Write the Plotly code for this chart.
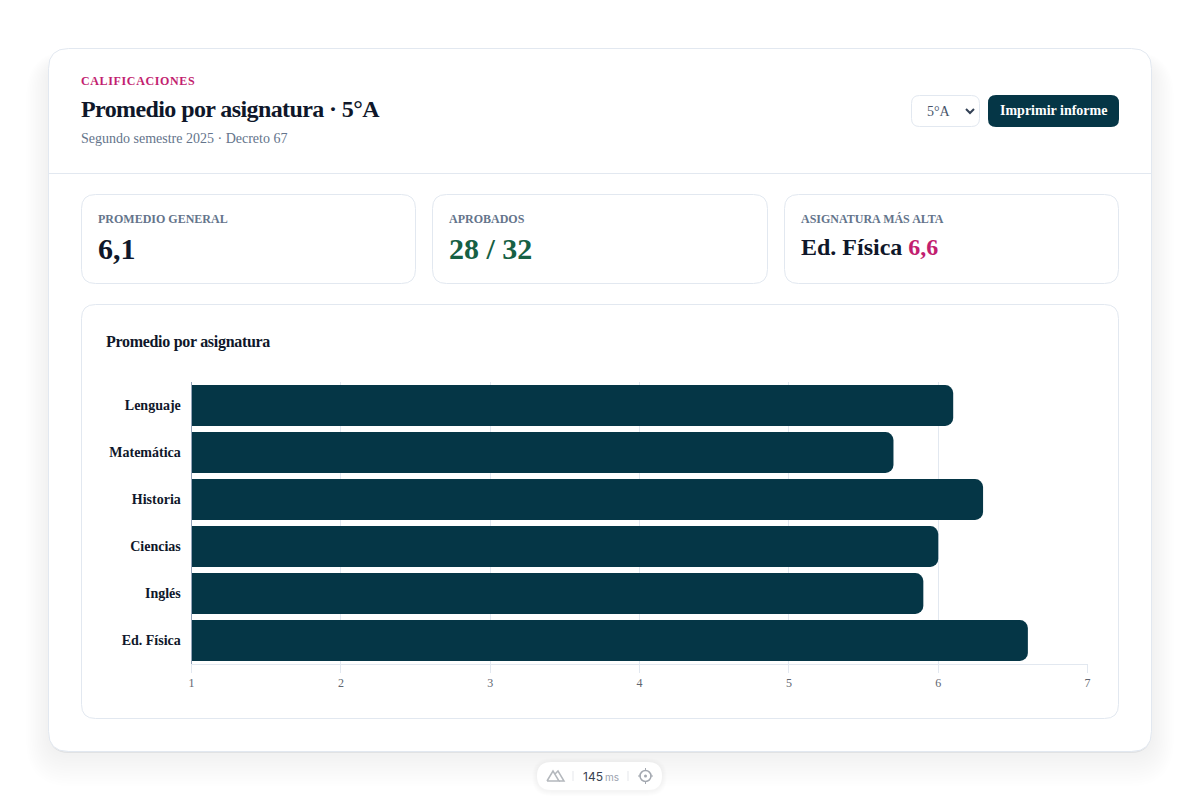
#!/usr/bin/env python3
"""Promedio por asignatura, 5°A: report card with KPI tiles and a bar chart."""
import plotly.graph_objects as go

asignaturas = ["Lenguaje", "Matemática", "Historia", "Ciencias", "Inglés", "Ed. Física"]
promedios = [6.1, 5.7, 6.3, 6.0, 5.9, 6.6]
x_ticks = [1, 2, 3, 4, 5, 6, 7]

W, H = 1200, 800
SERIF = "Liberation Serif"
INK = "#0f172a"
MUTED = "#64748b"
LINE = "#e2e8f0"
TEAL = "#053646"
PINK = "#c21e6f"
GREEN = "#166044"


def px(x):
    return x / W


def py(y):
    return 1 - y / H


def rounded(x0, y0, x1, y1, r):
    """SVG path for a rounded box, given in page pixels."""
    pts = [
        f"M{px(x0 + r)},{py(y0)}", f"L{px(x1 - r)},{py(y0)}", f"Q{px(x1)},{py(y0)} {px(x1)},{py(y0 + r)}",
        f"L{px(x1)},{py(y1 - r)}", f"Q{px(x1)},{py(y1)} {px(x1 - r)},{py(y1)}",
        f"L{px(x0 + r)},{py(y1)}", f"Q{px(x0)},{py(y1)} {px(x0)},{py(y1 - r)}",
        f"L{px(x0)},{py(y0 + r)}", f"Q{px(x0)},{py(y0)} {px(x0 + r)},{py(y0)}", "Z",
    ]
    return " ".join(pts)


def box(x0, y0, x1, y1, r, fill="#ffffff", line=LINE, width=1, opacity=1):
    return dict(type="path", xref="paper", yref="paper", layer="below", path=rounded(x0, y0, x1, y1, r),
                fillcolor=fill, opacity=opacity, line=dict(color=line, width=width))


def path_px(points, color, width=1.5, close=False):
    d = "M" + " L".join(f"{px(x)},{py(y)}" for x, y in points) + (" Z" if close else "")
    return dict(type="path", xref="paper", yref="paper", layer="below", path=d,
                line=dict(color=color, width=width))


def hline(x0, x1, y, color=LINE):
    return dict(type="line", xref="paper", yref="paper", layer="below", x0=px(x0), x1=px(x1), y0=py(y), y1=py(y),
                line=dict(color=color, width=1))


def vline(x, y0, y1, color=LINE):
    return dict(type="line", xref="paper", yref="paper", layer="below", x0=px(x), x1=px(x), y0=py(y0), y1=py(y1),
                line=dict(color=color, width=1))


def label(x, y, text, size, color=INK, bold=False, anchor="left", family=SERIF):
    return dict(xref="paper", yref="paper", x=px(x), y=py(y), text=text, showarrow=False, xanchor=anchor,
                align=anchor, yanchor="middle", borderpad=0, borderwidth=0,
                font=dict(family=family, size=size, color=color, weight=700 if bold else 400))


shapes = []
# card shadow: soft layers, widest first
for i in range(14, 0, -1):
    g = i * 3
    shapes.append(box(49 - g * 0.55, 49 + 14 - g * 0.3, 1151 + g * 0.55, 751 + g * 0.85, 20 + g * 0.6,
                      fill="#0f172a", line="rgba(0,0,0,0)", width=0, opacity=0.0032))
shapes.append(box(49, 52, 1151, 753, 20, fill="#0f172a", line="rgba(0,0,0,0)", width=0, opacity=0.07))
shapes.append(box(48.5, 48.5, 1151.5, 751.5, 20))
shapes.append(hline(49, 1151, 173.5))

# controls
shapes.append(box(911.5, 95.5, 979.5, 126.5, 8))
shapes.append(path_px([(966, 109), (970, 113), (974, 109)], "#334155", 2))
shapes.append(box(988, 95, 1119, 127, 8, fill=TEAL, line=TEAL, width=0))

# KPI tiles and chart panel
shapes.append(box(81.5, 194.5, 415.5, 283.5, 14))
shapes.append(box(432.5, 194.5, 767.5, 283.5, 14))
shapes.append(box(784.5, 194.5, 1118.5, 283.5, 14))
shapes.append(box(81.5, 304.5, 1118.5, 718.5, 14))

# footer pill with its two small icons
for i in range(5, 0, -1):
    shapes.append(box(537 - i, 762 - i + 1, 662 + i, 790 + i + 1, 14 + i, fill="#0f172a",
                      line="rgba(0,0,0,0)", width=0, opacity=0.008))
shapes.append(box(537, 762, 662, 790, 14, line="#ffffff", width=0))
shapes.append(path_px([(547, 781), (553, 771), (559, 781), (547, 781)], "#b4b8bd", 1.5))
shapes.append(path_px([(555, 774), (558, 771), (564, 781), (559, 781)], "#b4b8bd", 1.5))
shapes.append(vline(573, 771, 781, "#e5e7eb"))
shapes.append(vline(628, 771, 781, "#e5e7eb"))
shapes.append(dict(type="circle", xref="paper", yref="paper", layer="below", x0=px(640), x1=px(651), y0=py(781.5),
                   y1=py(770.5), line=dict(color="#a3a8b0", width=1.5)))
shapes.append(dict(type="circle", xref="paper", yref="paper", layer="below", x0=px(644), x1=px(647), y0=py(777.5),
                   y1=py(774.5), fillcolor="#a3a8b0", line=dict(width=0)))
shapes.append(hline(638, 641, 776, "#a3a8b0"))
shapes.append(hline(650, 653, 776, "#a3a8b0"))
shapes.append(vline(645.5, 768, 771, "#a3a8b0"))
shapes.append(vline(645.5, 781, 784, "#a3a8b0"))

annotations = [
    label(81, 81, "CALIFICACIONES", 12, PINK, True),
    label(81, 109.5, "Promedio por asignatura · 5°A", 24, INK, True),
    label(81, 138, "Segundo semestre 2025 · Decreto 67", 14, MUTED),
    label(927, 111, "5°A", 14, "#475569"),
    label(1053.5, 110.5, "Imprimir informe", 14, "#ffffff", True, "center"),
    label(98, 219, "PROMEDIO GENERAL", 12, MUTED, True),
    label(98, 248.5, "6,1", 30, INK, True),
    label(449, 219, "APROBADOS", 12, MUTED, True),
    label(449, 248.5, "28 / 32", 30, GREEN, True),
    label(801, 219, "ASIGNATURA MÁS ALTA", 12, MUTED, True),
    label(801, 247.5, f"Ed. Física <span style='color:{PINK}'>6,6</span>", 24, INK, True),
    label(106, 341.5, "Promedio por asignatura", 16, INK, True),
    label(583, 776, "145", 12, "#374151", family="Inter"),
    label(605, 776.5, "ms", 10, "#9ca3af", family="Inter"),
]

fig = go.Figure(go.Bar(
    x=promedios,
    y=asignaturas,
    orientation="h",
    marker=dict(color=TEAL, cornerradius=8, line=dict(width=0)),
))
fig.update_layout(
    width=W,
    height=H,
    margin=dict(l=0, r=0, t=0, b=0, autoexpand=False),
    paper_bgcolor="#ffffff",
    plot_bgcolor="rgba(0,0,0,0)",
    bargap=0.13,
    showlegend=False,
    shapes=shapes,
    annotations=annotations,
)
fig.update_xaxes(
    domain=[px(191.6), px(1087.6)],
    range=[1, 7],
    tickvals=x_ticks,
    ticks="outside",
    ticklen=8,
    tickcolor=LINE,
    tickfont=dict(family=SERIF, size=12, color="#5f6670"),
    showgrid=True,
    gridcolor=LINE,
    gridwidth=1,
    showline=True,
    linecolor=LINE,
    zeroline=False,
)
fig.update_yaxes(
    domain=[py(664), py(382)],
    categoryorder="array",
    categoryarray=asignaturas,
    autorange="reversed",
    ticks="",
    ticklabelstandoff=7,
    tickfont=dict(family=SERIF, size=14, color=INK, weight=700),
    showgrid=False,
    showline=True,
    linecolor="#94a3b8",
    zeroline=False,
)

# page margin off, plus the tracking the SVG font options cannot express
post = """
document.body.style.margin = '0';
const tracking = {'CALIFICACIONES': '0.64px', 'Promedio por asignatura · 5°A': '-0.6px',
                  'Promedio por asignatura': '-0.3px'};
document.querySelectorAll('.annotation-text').forEach(t => {
  if (tracking[t.textContent]) t.style.letterSpacing = tracking[t.textContent];
});
"""
fig.write_html("out.html", post_script=post, config={"displayModeBar": False})
